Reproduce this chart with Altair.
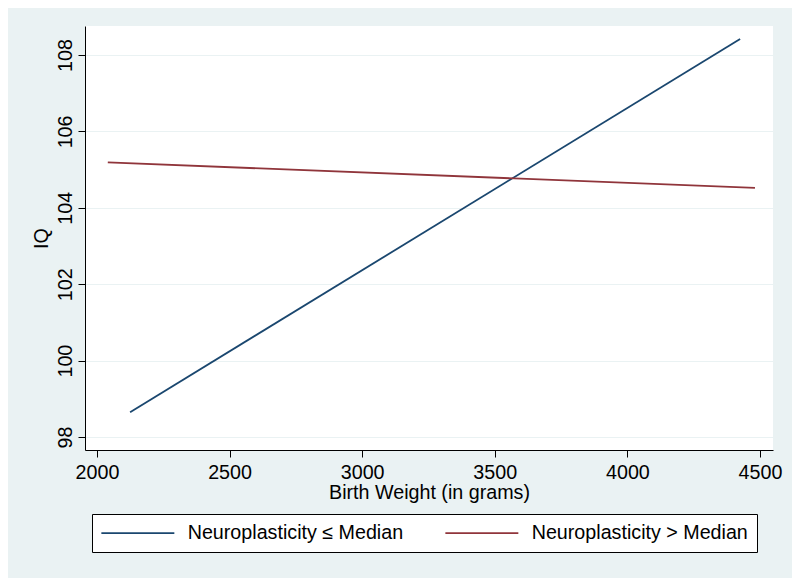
import altair as alt
import pandas as pd

# Data: fitted-line endpoints
groups = ["Neuroplasticity ≤ Median", "Neuroplasticity ≤ Median",
          "Neuroplasticity > Median", "Neuroplasticity > Median"]
birth_weight = [2125, 4425, 2041, 4481]
iq = [98.65, 108.42, 105.19, 104.52]

legend_order = ["Neuroplasticity ≤ Median", "Neuroplasticity > Median"]
line_colors = ["#1a476f", "#90353b"]
x_ticks = [2000, 2500, 3000, 3500, 4000, 4500]
y_ticks = [98, 100, 102, 104, 106, 108]

df = pd.DataFrame({"group": groups, "bw": birth_weight, "iq": iq})

FONT = "Liberation Sans"
FS = 19.7

chart = alt.Chart(df).mark_line(strokeWidth=1.8).encode(
    x=alt.X("bw:Q",
            scale=alt.Scale(domain=[1955, 4549], nice=False, zero=False),
            axis=alt.Axis(values=x_ticks, title="Birth Weight (in grams)",
                          grid=False, tickSize=7, labelPadding=5,
                          labelBaseline="top", titleY=48,
                          titleBaseline="alphabetic", format="d")),
    y=alt.Y("iq:Q",
            scale=alt.Scale(domain=[97.66, 108.76], nice=False, zero=False),
            axis=alt.Axis(values=y_ticks, title="IQ", grid=True,
                          gridColor="#EAF2F3", gridWidth=1.2,
                          tickSize=7, labelAngle=270, labelAlign="center",
                          labelBaseline="alphabetic", labelPadding=7,
                          titleX=-38, titleBaseline="alphabetic",
                          titleAngle=270, format="d")),
    color=alt.Color("group:N",
                    scale=alt.Scale(domain=legend_order, range=line_colors),
                    legend=alt.Legend(
                        title=None, orient="none", legendX=7, legendY=488,
                        direction="horizontal", columns=2,
                        symbolType="M-5,0H5", symbolSize=213,
                        symbolStrokeWidth=1.8, symbolOffset=27,
                        labelOffset=40, columnPadding=37,
                        labelFont=FONT, labelFontSize=FS, labelColor="#000",
                        labelLimit=500, padding=9,
                        strokeColor="#000", fillColor="#ffffff")),
).properties(
    width=688, height=424,
    autosize=alt.AutoSizeParams(type="none"),
    padding={"left": 77, "top": 18, "right": 19, "bottom": 128},
    background="#EAF2F3",
).configure_view(
    fill="#ffffff", stroke=None
).configure_axis(
    labelFont=FONT, labelFontSize=FS, labelColor="#000",
    titleFont=FONT, titleFontSize=FS, titleColor="#000", titleFontWeight="normal",
    domainColor="#000", domainWidth=1, tickColor="#000", tickWidth=1,
)

chart.save("out.html", embed_options={"renderer": "svg", "actions": False})
